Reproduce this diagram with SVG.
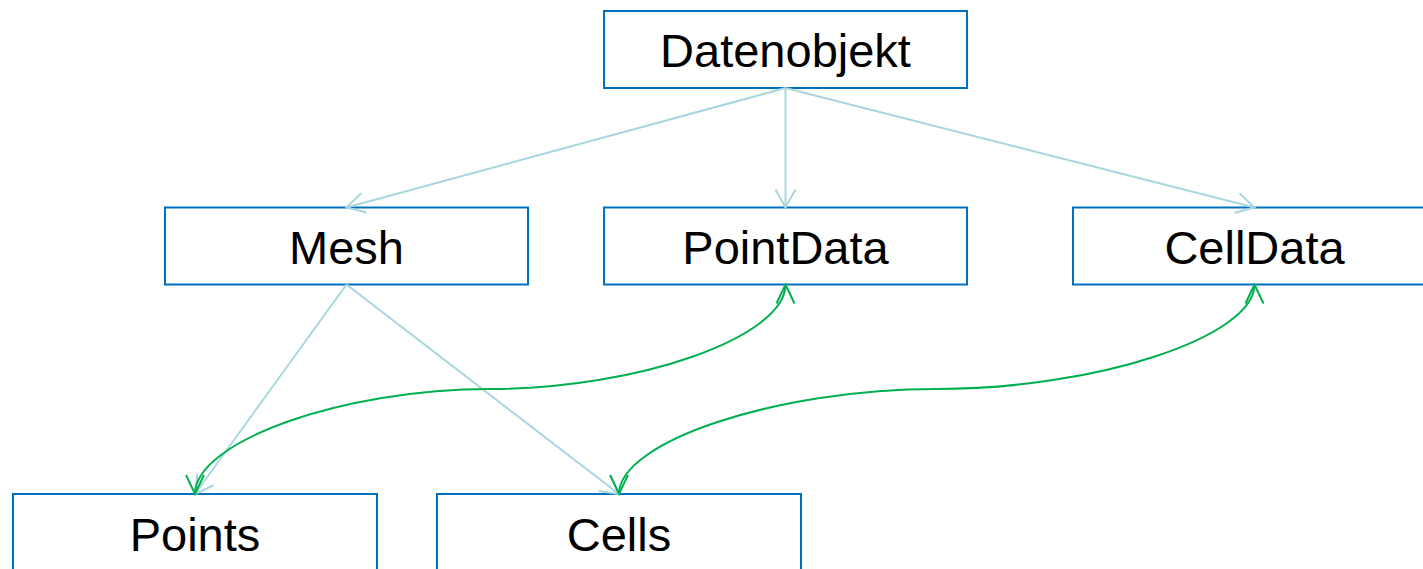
<svg xmlns="http://www.w3.org/2000/svg" width="1423" height="569" viewBox="0 0 1423 569">
  <style>
    .box { fill: #ffffff; stroke: #0070c0; stroke-width: 2; }
    .label { font-family: "Liberation Sans", Arial, sans-serif; font-size: 47px; fill: #000000; text-anchor: middle; }
    .tree { fill: none; stroke: #a8d6de; stroke-width: 2; marker-end: url(#arrowBlue); }
    .link { fill: none; stroke: #00b050; stroke-width: 2; marker-start: url(#arrowGreen); marker-end: url(#arrowGreen); }
  </style>
  <defs>
    <marker id="arrowBlue" markerUnits="userSpaceOnUse" markerWidth="24" markerHeight="24" viewBox="-20 -12 24 24" refX="0" refY="0" orient="auto" overflow="visible">
      <path d="M-18,-10 L0,0 L-18,10" fill="none" stroke="#a8d6de" stroke-width="2"/>
    </marker>
    <marker id="arrowGreen" markerUnits="userSpaceOnUse" markerWidth="24" markerHeight="24" viewBox="-20 -12 24 24" refX="0" refY="0" orient="auto-start-reverse" overflow="visible">
      <path d="M-19,-9 L0,0 L-19,9" fill="none" stroke="#00b050" stroke-width="2"/>
    </marker>
  </defs>

  <!-- nodes -->
  <g id="node-datenobjekt">
    <rect class="box" x="604" y="11" width="363" height="77"/>
    <text class="label" x="785.5" y="67">Datenobjekt</text>
  </g>
  <g id="node-mesh">
    <rect class="box" x="165" y="207.5" width="363" height="77"/>
    <text class="label" x="346.5" y="263.5">Mesh</text>
  </g>
  <g id="node-pointdata">
    <rect class="box" x="604" y="207.5" width="363" height="77"/>
    <text class="label" x="785.5" y="263.5">PointData</text>
  </g>
  <g id="node-celldata">
    <rect class="box" x="1073" y="207.5" width="363" height="77"/>
    <text class="label" x="1254.5" y="263.5">CellData</text>
  </g>
  <g id="node-points">
    <rect class="box" x="13" y="494" width="364" height="77"/>
    <text class="label" x="195" y="551">Points</text>
  </g>
  <g id="node-cells">
    <rect class="box" x="437" y="494" width="364" height="77"/>
    <text class="label" x="619" y="551">Cells</text>
  </g>

  <!-- connectors -->
  <g id="connectors">
    <path class="tree" d="M785.5,88 L346.5,207.5"/>
    <path class="tree" d="M785.5,88 L785.5,207.5"/>
    <path class="tree" d="M785.5,88 L1254.5,207.5"/>
    <path class="tree" d="M346.5,284.5 L195,494"/>
    <path class="tree" d="M346.5,284.5 L619,494"/>
    <path class="link" d="M195,494 C195,441.5 342.5,389 490,389 C637.5,389 785.5,337 785.5,284.5"/>
    <path class="link" d="M619,494 C619,441.5 777.75,389 936.5,389 C1095.25,389 1254.5,337 1254.5,284.5"/>
  </g>
</svg>
